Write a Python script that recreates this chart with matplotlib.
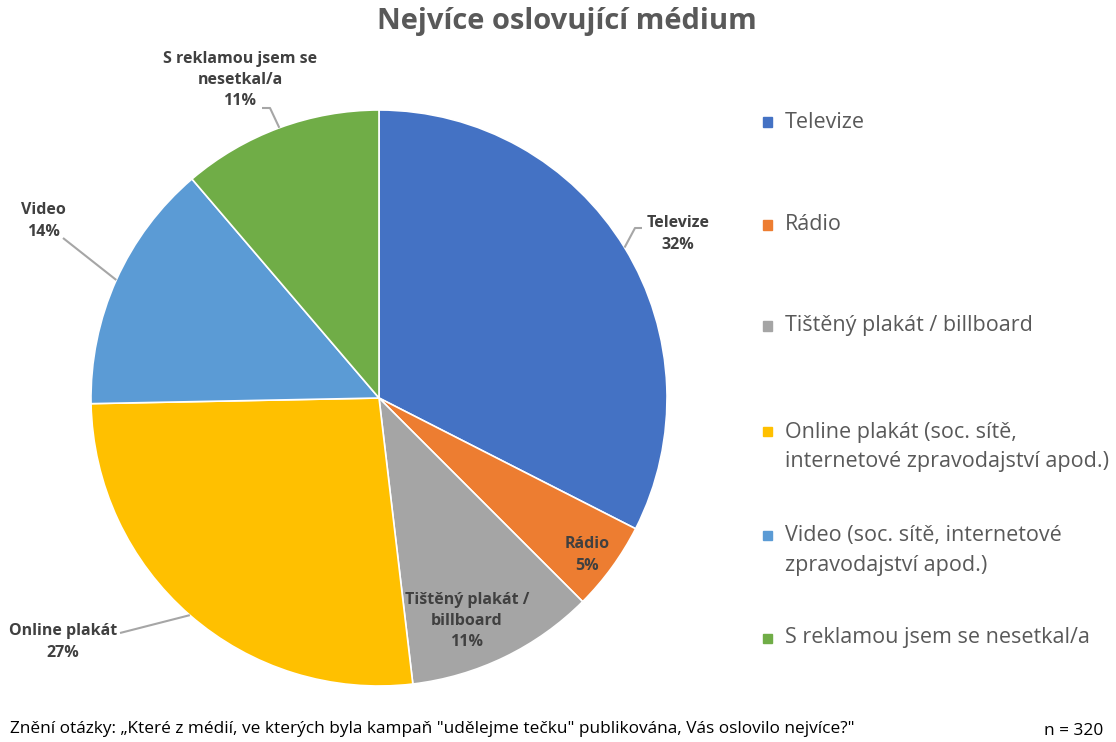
import matplotlib.pyplot as plt
import numpy as np

categories = ["Televize", "Rádio", "Tištěný plakát / billboard",
              "Online plakát (soc. sítě,\ninternetové zpravodajství apod.)",
              "Video (soc. sítě, internetové\nzpravodajství apod.)",
              "S reklamou jsem se nesetkal/a"]
counts = [104, 16, 34, 85, 45, 36]
short_labels = ["Televize", "Rádio", "Tištěný plakát /\nbillboard", "Online plakát",
                "Video", "S reklamou jsem se\nnesetkal/a"]
colors = ["#4472C4", "#ED7D31", "#A5A5A5", "#FFC000", "#5B9BD5", "#70AD47"]

title = "Nejvíce oslovující médium"
footer = 'Znění otázky: „Které z médií, ve kterých byla kampaň "udělejme tečku" publikována, Vás oslovilo nejvíce?"'
n_text = "n = 320"

plt.rcParams['font.family'] = ['Open Sans', 'DejaVu Sans']

W, H = 1116, 742
fig = plt.figure(figsize=(W / 100, H / 100), dpi=100)

cx, cy, R = 379, 398, 288
ax = fig.add_axes([(cx - R) / W, (H - cy - R) / H, 2 * R / W, 2 * R / H])
wedges, _ = ax.pie(counts, colors=colors, startangle=90, counterclock=False, radius=1,
                   wedgeprops=dict(edgecolor="white", linewidth=1.2))
ax.set_xlim(-1, 1)
ax.set_ylim(-1, 1)
ax.set_aspect('auto')
ax.axis('off')


def px(x, y):
    # pixel coords -> pie data coords
    return (x - cx) / R, (cy - y) / R


total = sum(counts)
pct = [f"{round(100 * c / total)}%" for c in counts]

# label text centers (pixels) and leader line bend points
label_pos = [(678, 234), (587, 555), (467, 621), (63, 642), (43, 221), (240, 80)]
leader_end = [[(642, 228), (635, 228)], None, None, [(120, 633)], [(63, 238)],
              [(262, 108), (270, 108)]]

for i, w in enumerate(wedges):
    txt = short_labels[i] + "\n" + pct[i]
    x, y = px(*label_pos[i])
    ax.text(x, y, txt, ha='center', va='center', fontsize=11.5, fontweight='bold',
            color="#404040", linespacing=1.45, clip_on=False)
    if leader_end[i]:
        mid = np.deg2rad((w.theta1 + w.theta2) / 2)
        pts = [px(*p) for p in leader_end[i]] + [(np.cos(mid), np.sin(mid))]
        ax.plot([p[0] for p in pts], [p[1] for p in pts], color="#A6A6A6", lw=1.5,
                clip_on=False, solid_capstyle='butt')

fig.text(567 / W, 1 - 22 / H, title, ha='center', va='center', fontsize=21,
         fontweight='bold', color="#595959")

# legend
leg_y = [122, 225, 326, 432, 535, 638]
for i, lab in enumerate(categories):
    y0 = leg_y[i]
    fig.patches.append(plt.Rectangle((763 / W, 1 - (y0 + 4.5) / H), 9 / W, 9 / H,
                                     transform=fig.transFigure, color=colors[i]))
    for j, line in enumerate(lab.split("\n")):
        fig.text(785 / W, 1 - (y0 + 30 * j) / H, line, ha='left', va='center',
                 fontsize=15.5, color="#595959")

fig.text(10 / W, 1 - 729 / H, footer, ha='left', va='center', fontsize=12.4, color="#000000")
fig.text(1103 / W, 1 - 731 / H, n_text, ha='right', va='center', fontsize=12.4, color="#000000")

fig.savefig("out.png", dpi=100, facecolor="white")
